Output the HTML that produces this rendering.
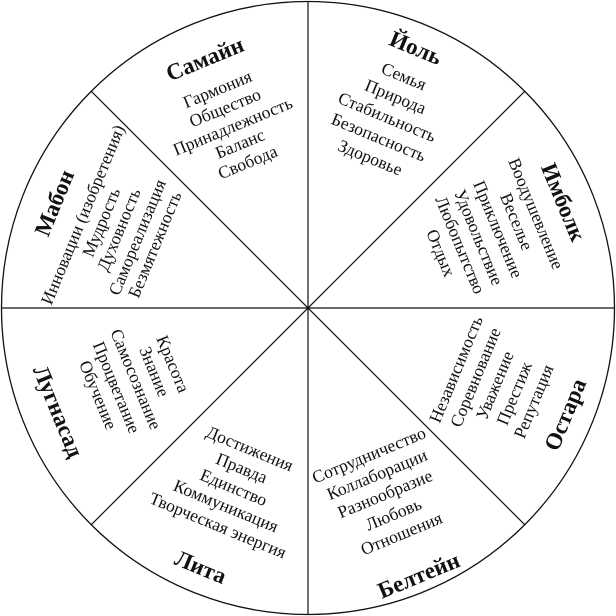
<!DOCTYPE html>
<html><head><meta charset="utf-8"><style>
html,body{margin:0;padding:0;background:#fff}
svg{display:block}
text{font-family:"Liberation Serif","DejaVu Serif",serif;fill:#111;text-anchor:middle}
.h{font-size:23px;font-weight:bold}
.i{font-size:17.5px}
</style></head><body>
<svg width="616" height="616" viewBox="0 0 616 616" xmlns="http://www.w3.org/2000/svg">
<circle cx="308" cy="308" r="306.5" fill="#fff" stroke="#111" stroke-width="1.3"/>
<g stroke="#111" stroke-width="1.2">
<line x1="308" y1="1.5" x2="308" y2="614.5"/>
<line x1="1.5" y1="308" x2="614.5" y2="308"/>
<line x1="91.3" y1="91.3" x2="524.7" y2="524.7"/>
<line x1="524.7" y1="91.3" x2="91.3" y2="524.7"/>
</g>
<g transform="rotate(22.5 308 308)">
<text class="h" x="308" y="34">Йоль</text>
<text class="i" x="308" y="63">Семья</text>
<text class="i" x="308" y="85">Природа</text>
<text class="i" x="308" y="107">Стабильность</text>
<text class="i" x="308" y="129">Безопасность</text>
<text class="i" x="308" y="151">Здоровье</text>
</g>
<g transform="rotate(-22.5 308 308)">
<text class="h" x="308" y="46">Самайн</text>
<text class="i" x="308" y="77">Гармония</text>
<text class="i" x="308" y="97">Общество</text>
<text class="i" x="308" y="117">Принадлежность</text>
<text class="i" x="308" y="136">Баланс</text>
<text class="i" x="308" y="156">Свобода</text>
</g>
<g transform="rotate(67.5 308 308)">
<text class="h" x="308" y="39">Имболк</text>
<text class="i" x="308" y="67">Воодушевление</text>
<text class="i" x="308" y="88">Веселье</text>
<text class="i" x="308" y="108">Приключение</text>
<text class="i" x="308" y="129">Удовольствие</text>
<text class="i" x="308" y="149">Любопытство</text>
<text class="i" x="308" y="170">Отдых</text>
</g>
<g transform="rotate(-67.5 308 308)">
<text class="h" x="308" y="41">Мабон</text>
<text class="i" x="308" y="70">Инновации (изобретения)</text>
<text class="i" x="308" y="90">Мудрость</text>
<text class="i" x="308" y="109">Духовность</text>
<text class="i" x="308" y="129">Самореализация</text>
<text class="i" x="308" y="148">Безмятежность</text>
</g>
<g transform="rotate(-67.5 308 308)">
<text class="i" x="308" y="474">Независимость</text>
<text class="i" x="308" y="495">Соревнование</text>
<text class="i" x="308" y="516">Уважение</text>
<text class="i" x="308" y="537">Престиж</text>
<text class="i" x="308" y="558">Репутация</text>
<text class="h" x="308" y="594">Остара</text>
</g>
<g transform="rotate(-22.5 308 308)">
<text class="i" x="308" y="473">Сотрудничество</text>
<text class="i" x="308" y="494">Коллаборации</text>
<text class="i" x="308" y="515">Разнообразие</text>
<text class="i" x="308" y="537">Любовь</text>
<text class="i" x="308" y="558">Отношения</text>
<text class="h" x="308" y="605">Белтейн</text>
</g>
<g transform="rotate(22.5 308 308)">
<text class="i" x="308" y="466">Достижения</text>
<text class="i" x="308" y="487">Правда</text>
<text class="i" x="308" y="508">Единство</text>
<text class="i" x="308" y="528">Коммуникация</text>
<text class="i" x="308" y="549">Творческая энергия</text>
<text class="h" x="308" y="596">Лита</text>
</g>
<g transform="rotate(67.5 308 308)">
<text class="i" x="308" y="460">Красота</text>
<text class="i" x="308" y="480">Знание</text>
<text class="i" x="308" y="500">Самосознание</text>
<text class="i" x="308" y="521">Процветание</text>
<text class="i" x="308" y="541">Обучение</text>
<text class="h" x="308" y="586">Лугнасад</text>
</g>
</svg>
</body></html>
